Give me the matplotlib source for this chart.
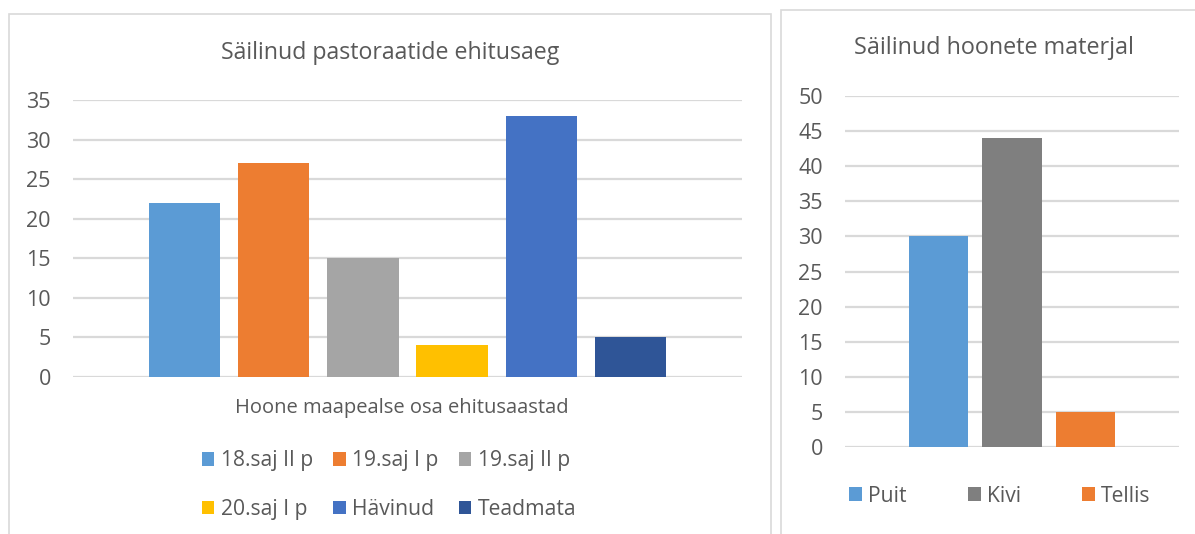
import matplotlib
matplotlib.use("Agg")
import matplotlib.pyplot as plt
from matplotlib.patches import Rectangle

W, H = 1195, 534

# ---- data ----
left_title = "Säilinud pastoraatide ehitusaeg"
left_xlabel = "Hoone maapealse osa ehitusaastad"
left_series = ["18.saj II p", "19.saj I p", "19.saj II p", "20.saj I p", "Hävinud", "Teadmata"]
left_values = [22, 27, 15, 4, 33, 5]
left_colors = ["#5B9BD5", "#ED7D31", "#A5A5A5", "#FFC000", "#4472C4", "#2F5597"]
left_yticks = [0, 5, 10, 15, 20, 25, 30, 35]

right_title = "Säilinud hoonete materjal"
right_series = ["Puit", "Kivi", "Tellis"]
right_values = [30, 44, 5]
right_colors = ["#5B9BD5", "#7F7F7F", "#ED7D31"]
right_yticks = [0, 5, 10, 15, 20, 25, 30, 35, 40, 45, 50]

TXT = "#595959"
GRID = "#D9D9D9"
plt.rcParams['font.family'] = ['Open Sans', 'DejaVu Sans']

fig = plt.figure(figsize=(W / 100, H / 100), dpi=100)


def fx(x):
    return x / W


def fy(y):
    return 1 - y / H


def axes_px(x0, y0, x1, y1):
    return fig.add_axes([fx(x0), fy(y1), (x1 - x0) / W, (y1 - y0) / H])


# panel borders
fig.patches.append(Rectangle((fx(8.5), fy(540)), (771 - 8.5) / W, (540 - 14) / H,
                             transform=fig.transFigure, fill=False, ec=GRID, lw=1.2))
fig.patches.append(Rectangle((fx(781), fy(540)), (1210 - 781) / W, (540 - 10) / H,
                             transform=fig.transFigure, fill=False, ec=GRID, lw=1.2))


def style(ax, yticks):
    for s in ax.spines.values():
        s.set_visible(False)
    ax.set_yticks(yticks)
    ax.set_ylim(yticks[0], yticks[-1])
    ax.set_xticks([])
    ax.yaxis.grid(True, color=GRID, lw=1.6)
    ax.set_axisbelow(True)
    ax.tick_params(axis='y', length=0, pad=16, labelsize=15.5, labelcolor=TXT)
    ax.patch.set_alpha(0)


# ---- left chart ----
axL = axes_px(73, 100, 742, 377)
handlesL = []
for i, (name, v, c) in enumerate(zip(left_series, left_values, left_colors)):
    handlesL.append(axL.bar(i, v, width=0.8, color=c, label=name))
axL.set_xlim(-1.25, len(left_series) - 1 + 1.25)
style(axL, left_yticks)

fig.text(fx(390), fy(53), left_title, ha='center', va='center', fontsize=16.7, color=TXT)
fig.text(fx(402), fy(408), left_xlabel, ha='center', va='center', fontsize=14.5, color=TXT)

order = [0, 3, 1, 4, 2, 5]
legL = fig.legend([handlesL[k] for k in order], [left_series[k] for k in order],
                  ncol=3, loc='center', bbox_to_anchor=(fx(389), fy(485)),
                  frameon=False, fontsize=15.2, labelcolor=TXT,
                  handlelength=0.6, handleheight=0.6, handletextpad=0.3,
                  columnspacing=0.95, labelspacing=1.3, borderpad=0, borderaxespad=0)

# ---- right chart ----
axR = axes_px(845, 96, 1179, 447)
handlesR = []
for i, (name, v, c) in enumerate(zip(right_series, right_values, right_colors)):
    handlesR.append(axR.bar(i, v, width=0.8, color=c, label=name))
axR.set_xlim(-1.26, len(right_series) - 1 + 1.26)
style(axR, right_yticks)

fig.text(fx(994), fy(48), right_title, ha='center', va='center', fontsize=16.8, color=TXT)

legR = fig.legend(handlesR, right_series, ncol=3, loc='center',
                  bbox_to_anchor=(fx(1000), fy(496)), frameon=False, fontsize=15.2,
                  labelcolor=TXT, handlelength=0.6, handleheight=0.6, handletextpad=0.3,
                  columnspacing=2.9, borderpad=0, borderaxespad=0)

fig.savefig("out.png", dpi=100)
